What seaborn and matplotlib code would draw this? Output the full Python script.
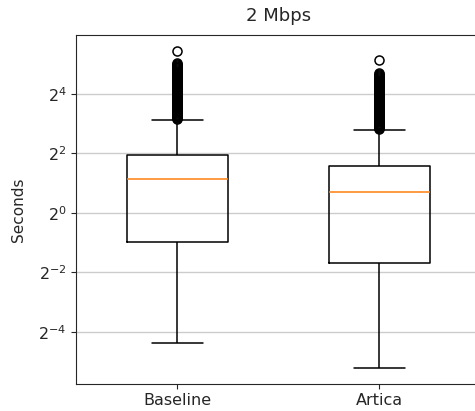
import matplotlib as mpl
mpl.use('Agg')
import pandas as pd
import seaborn as sns
import matplotlib.pyplot as plt
from matplotlib.ticker import LogFormatterSciNotation, NullLocator

# summary values (seconds)
systems = ['Baseline', 'Artica']
whisker_low = [0.0487, 0.027]
quart_low = [0.51, 0.31]
medians = [2.2, 1.63]
quart_high = [3.86, 2.98]
whisker_high = [8.75, 6.9]

baseline_fliers = [9.0, 9.15, 9.3, 9.45, 9.6, 9.8, 10.0, 10.2, 10.4, 10.6,
                   10.8, 11.0, 11.2, 11.4, 11.6, 11.8, 12.0, 12.25, 12.5,
                   12.75, 13.0, 13.25, 13.5, 13.75, 14.0, 14.3, 14.6, 14.9,
                   15.2, 15.5, 15.8, 16.1, 16.4, 16.7, 17.0, 17.35, 17.7,
                   18.05, 18.4, 18.75, 19.1, 19.5, 19.9, 20.3, 20.7, 21.1,
                   21.5, 21.95, 22.4, 22.85, 23.3, 23.75, 24.2, 24.7, 25.2,
                   25.7, 26.2, 26.75, 27.3, 27.85, 28.4, 29.0, 29.6, 30.2,
                   30.8, 31.4, 32.0, 32.6, 43.6]
artica_fliers = [7.1, 7.25, 7.4, 7.55, 7.7, 7.85, 8.0, 8.15, 8.3, 8.45, 8.6,
                 8.8, 9.0, 9.2, 9.4, 9.6, 9.8, 10.0, 10.2, 10.4, 10.6, 10.8,
                 11.0, 11.25, 11.5, 11.75, 12.0, 12.25, 12.5, 12.75, 13.0,
                 13.3, 13.6, 13.9, 14.2, 14.5, 14.8, 15.1, 15.4, 15.7, 16.0,
                 16.35, 16.7, 17.05, 17.4, 17.75, 18.1, 18.5, 18.9, 19.3,
                 19.7, 20.1, 20.5, 20.95, 21.4, 21.85, 22.3, 22.75, 23.2,
                 23.7, 24.2, 24.7, 25.2, 25.8, 35.2]
fliers = [baseline_fliers, artica_fliers]

# samples stacked on each quartile value so the quartiles land on them
quart_weight = 100


def build_frame():
    rows = []
    for i, sys_name in enumerate(systems):
        vals = ([whisker_low[i]] + [quart_low[i]] * quart_weight
                + [medians[i]] * quart_weight
                + [quart_high[i]] * quart_weight
                + [whisker_high[i]] + fliers[i])
        rows += [(sys_name, v) for v in vals]
    return pd.DataFrame(rows, columns=['System', 'Seconds'])


def main():
    sns.set_style('ticks')
    plt.rcParams['font.family'] = ['DejaVu Sans']

    plot_df = build_frame()
    fig = plt.figure(figsize=(4.75, 4.11), dpi=100)
    ax = fig.add_axes([0.1606, 0.0664, 0.8505, 0.8484])

    sns.boxplot(data=plot_df, x='System', y='Seconds', order=systems,
                width=0.5, fill=False, color='black', linewidth=1.1,
                whis=1.5, ax=ax,
                medianprops={'color': '#ff7f0e', 'linewidth': 1.1},
                flierprops={'marker': 'o', 'markerfacecolor': 'none',
                            'markeredgecolor': 'black', 'markersize': 6.5,
                            'markeredgewidth': 1.1})

    ax.set_yscale('log', base=2)
    ax.set_yticks([2.0 ** p for p in (-4, -2, 0, 2, 4)])
    ax.yaxis.set_major_formatter(LogFormatterSciNotation(base=2))
    ax.yaxis.set_minor_locator(NullLocator())
    ax.yaxis.grid(True, color='.8', linewidth=1)
    ax.set_axisbelow(True)

    ax.set_xlabel('')
    ax.set_ylabel('Seconds', size=11, labelpad=9)
    ax.set_title('2 Mbps', size=13, pad=10)
    ax.tick_params(labelsize=11.5, length=3.5)

    fig.savefig('out.png', dpi=100)
    plt.close()


if __name__ == "__main__":
    main()
